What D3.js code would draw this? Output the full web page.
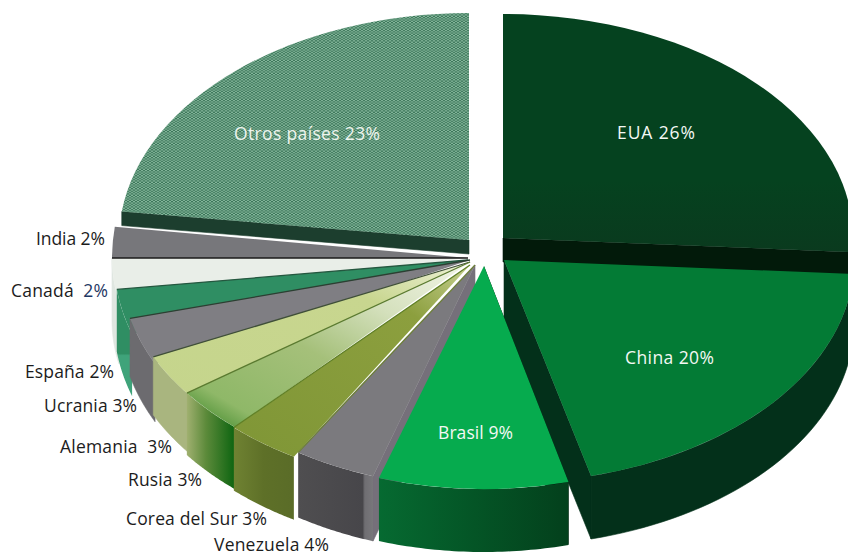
<!DOCTYPE html>
<html><head><meta charset="utf-8">
<script src="https://cdn.jsdelivr.net/npm/d3@7"></script>
<style>html,body{margin:0;padding:0;background:#fff}svg{display:block}</style>
</head><body><div id="c"></div>
<script>
const categories = ["EUA","China","Brasil","Venezuela","Corea del Sur","Rusia","Alemania","Ucrania","España","Canadá","India","Otros países"];
const values = [26,20,9,4,3,3,3,3,2,2,2,23];
const faceColors = ["url(#fEUA)","#037b35","#06ab4e","#7b7a7e","url(#fCorea)","url(#fRusia)","url(#fAlem)","#7f7e83","#2f8e63","#e9eee8","#77777b","url(#dots)"];
const wallColors = ["#021a0a","#03301a","url(#wBrasil)","url(#wVen)","url(#wCorea)","url(#wRusia)","#a9b57f","#6c6b6f","url(#wEsp)","#dfe6e0","#77777b","#1c3e2e"];
const edgeColors = [null,null,null,"#6d7f3a","#5f7f25","#5a7a30","#3f4f38","#2c3f32","#24573f","#1a1a1a",null,null];
// drawing geometry per slice, separate from the data
const apexX = [503,504,484,475,470,470,470,470,468,468,468,469];
const apexY = [238,260,266,265,265,262,262,260,260,258,258,240];
const radX  = [350,350,340,330,345,350,350,351,354,356,356,350];
const radY  = [224,223,223,222,223,223,223,235,235,225,250,227];
const depth = [24,63,63,65,63,62,58,58,62,62,0,14];
const startNudgeDeg = [0,0,0,0,-1.7,-1,-1,-1,-4,-4,0,0];
const sideEdge = [1,1,0,0,null,null,null,null,null,null,null,0];
const sideColors = ["#021a0a","#03301a",null,"#75707a",null,null,null,null,null,null,null,"#1c3e2e"];
const drawOrder = [0,11,10,9,8,7,6,5,4,3,1,2];

const labelText = [["EUA 26%"],["China 20%"],["Brasil 9%"],["Venezuela 4%"],["Corea del Sur 3%"],["Rusia 3%"],["Alemania  3%"],["Ucrania 3%"],["España 2%"],["Canadá  ","2%"],["India 2%"],["Otros países 23%"]];
const labelX = [617,625,438,214,126,128,60,44,25,11,36,234];
const labelY = [133,358,433,545,519,480,447,406,372,291,239,134];
const labelW = [78,89,75,115,141,74,112,93,89,97,69,146];
const labelFill = ["#f4f8f4","#f4f8f4","#f4f8f4","#1c1c1c","#1c1c1c","#1c1c1c","#1c1c1c","#1c1c1c","#1c1c1c","#1c1c1c","#1c1c1c","#eef4ee"];

const W = 848, H = 555;
const svg = d3.select("#c").append("svg").attr("width",W).attr("height",H).attr("viewBox",`0 0 ${W} ${H}`);
const defs = svg.append("defs");
function grad(id, x1,y1,x2,y2, stops){
  const g = defs.append("linearGradient").attr("id",id).attr("x1",x1).attr("y1",y1).attr("x2",x2).attr("y2",y2);
  stops.forEach(s=>g.append("stop").attr("offset",s[0]).attr("stop-color",s[1]));
}
grad("fEUA",0,0,0,1,[[0,"#05421f"],[0.7,"#05421f"],[1,"#0a3a1e"]]);
grad("fCorea",1,0,0,1,[[0,"#c6d090"],[0.25,"#8c9f3e"],[1,"#7f9636"]]);
grad("fRusia",1,0,0,1,[[0,"#f4f6ea"],[0.3,"#d4e0bc"],[0.55,"#a5c07a"],[0.85,"#8fb868"],[1,"#2f7f1f"]]);
grad("fAlem",1,0,0,1,[[0,"#eef2d8"],[0.3,"#c8d68f"],[1,"#c5d58c"]]);
grad("wBrasil",0,0,1,0,[[0,"#066a31"],[0.5,"#045526"],[1,"#03401c"]]);
grad("wVen",0,0,1,0,[[0,"#4f4e50"],[0.86,"#47464a"],[0.89,"#6f6e72"],[1,"#78777b"]]);
grad("wCorea",0,0,1,0,[[0,"#6f8232"],[0.5,"#5e7028"],[1,"#5a6c28"]]);
grad("wRusia",0,0,1,0,[[0,"#a0b070"],[0.4,"#5c8a3a"],[1,"#0c6410"]]);
grad("wEsp",0,0,0,1,[[0,"#2f8e63"],[0.6,"#2f8e63"],[0.62,"#3fa37a"],[1,"#3fa37a"]]);
const pat = defs.append("pattern").attr("id","dots").attr("patternUnits","userSpaceOnUse").attr("width",4).attr("height",4);
pat.append("rect").attr("width",4).attr("height",4).attr("fill","#3a7558");
pat.append("rect").attr("width",2).attr("height",2).attr("fill","#86b79c");
pat.append("rect").attr("x",2).attr("y",2).attr("width",2).attr("height",2).attr("fill","#86b79c");

const pie = d3.pie().sort(null).value(d=>d);
const arcs = pie(values).map((d,i)=>({...d,startAngle:d.startAngle+startNudgeDeg[i]*Math.PI/180}));
const arc = d3.arc().innerRadius(0);
const line = d3.line();
const pt = (i,a,dy=0)=>[apexX[i]+radX[i]*Math.sin(a), apexY[i]-radY[i]*Math.cos(a)+dy];
const root = svg.append("g");

function paint(sel, fill){
  const solid = !String(fill).startsWith("url");
  sel.attr("fill",fill);
  if (solid) sel.attr("stroke",fill).attr("stroke-width",0.6);
  return sel;
}
drawOrder.forEach(i=>{
  const d = arcs[i], t = depth[i];
  const g = root.append("g").attr("class","slice").attr("data-name",categories[i]);
  if (sideEdge[i] !== null && t > 0) {
    const a = sideEdge[i] ? d.endAngle : d.startAngle;
    const apex = [apexX[i],apexY[i]], apexB = [apexX[i],apexY[i]+t];
    paint(g.append("path").attr("d",line([apex,pt(i,a),pt(i,a,t),apexB])+"Z"), sideColors[i]);
  }
  const lo = Math.max(d.startAngle,Math.PI/2), hi = Math.min(d.endAngle,Math.PI*1.5);
  if (t > 0 && hi > lo) {
    const scale = d3.scaleLinear().domain([0,40]).range([lo,hi]);
    const steps = d3.range(41).map(scale);
    const pts = steps.map(a=>pt(i,a)).concat(steps.slice().reverse().map(a=>pt(i,a,t)));
    paint(g.append("path").attr("d",line(pts)+"Z"), wallColors[i]);
  }
  g.append("path")
    .attr("d",arc.outerRadius(radX[i])(d))
    .attr("transform",`translate(${apexX[i]},${apexY[i]}) scale(1,${radY[i]/radX[i]})`)
    .attr("fill",faceColors[i]);
  if (edgeColors[i]) {
    g.append("path").attr("d",line([[apexX[i],apexY[i]],pt(i,d.endAngle)]))
      .attr("fill","none").attr("stroke",edgeColors[i]).attr("stroke-width",1.3);
  }
});

labelText.forEach((parts,i)=>{
  const tx = svg.append("text").attr("x",labelX[i]).attr("y",labelY[i])
    .attr("dy","0.35em").attr("font-family","'Open Sans','Noto Sans',sans-serif").attr("font-size",17.5)
    .attr("fill",labelFill[i]).attr("textLength",labelW[i]).attr("lengthAdjust","spacing")
    .style("white-space","pre");
  parts.forEach((p,j)=>tx.append("tspan").text(p).attr("fill", j===1 ? "#1f3864" : null));
});
</script></body></html>
